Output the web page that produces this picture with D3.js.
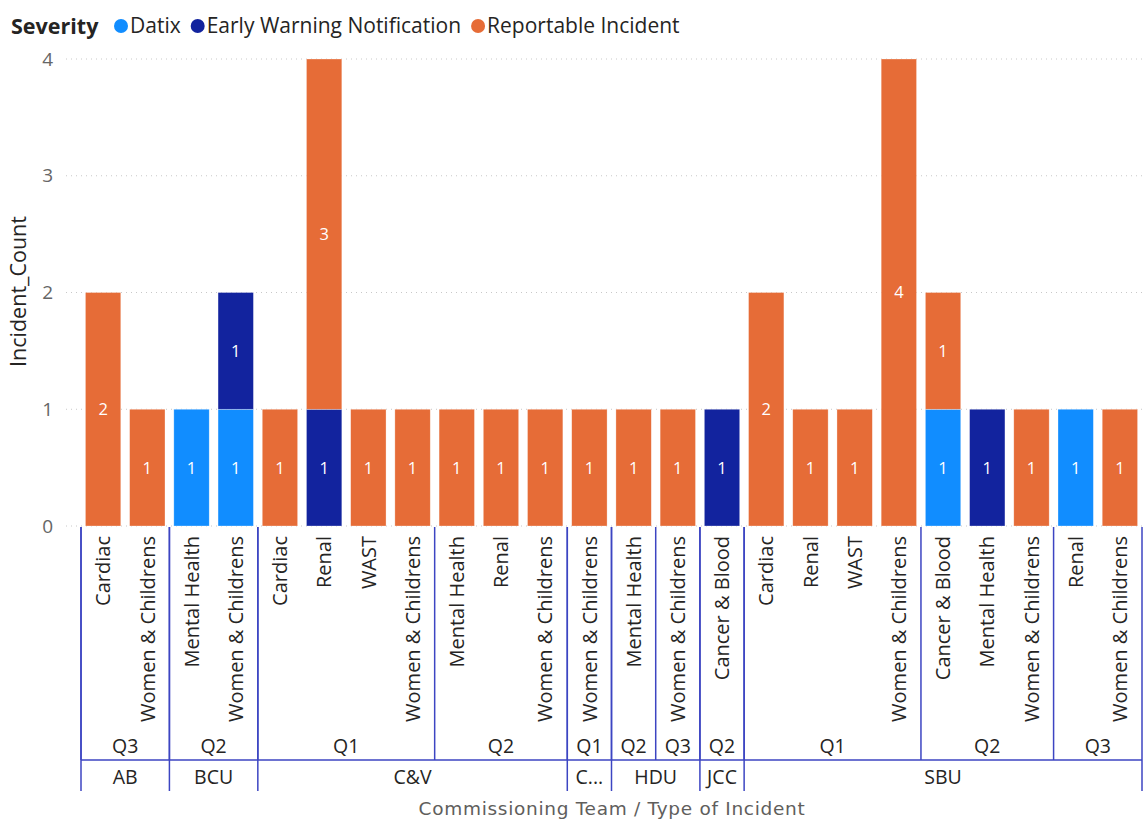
<!DOCTYPE html>
<html>
<head>
<meta charset="utf-8">
<script src="https://cdn.jsdelivr.net/npm/d3@7"></script>
<style>
  html, body { margin: 0; padding: 0; background: #fff; }
  svg { display: block; font-family: "Open Sans", "Noto Sans", sans-serif; }
</style>
</head>
<body>
<svg id="chart" width="1146" height="822"></svg>
<script>
// Hierarchy: commissioning team > quarter > type of incident
const teams = ["AB","AB","BCU","BCU","C&V","C&V","C&V","C&V","C&V","C&V","C&V","C...","HDU","HDU","JCC","SBU","SBU","SBU","SBU","SBU","SBU","SBU","SBU","SBU"];
const quarters = ["Q3","Q3","Q2","Q2","Q1","Q1","Q1","Q1","Q2","Q2","Q2","Q1","Q2","Q3","Q2","Q1","Q1","Q1","Q1","Q2","Q2","Q2","Q3","Q3"];
const incidentTypes = ["Cardiac","Women & Childrens","Mental Health","Women & Childrens","Cardiac","Renal","WAST","Women & Childrens","Mental Health","Renal","Women & Childrens","Women & Childrens","Mental Health","Women & Childrens","Cancer & Blood","Cardiac","Renal","WAST","Women & Childrens","Cancer & Blood","Mental Health","Women & Childrens","Renal","Women & Childrens"];

// Incident counts per severity
const severities = ["Datix","Early Warning Notification","Reportable Incident"];
const datix      = [0,0,1,1,0,0,0,0,0,0,0,0,0,0,0,0,0,0,0,1,0,0,1,0];
const earlyWarn  = [0,0,0,1,0,1,0,0,0,0,0,0,0,0,1,0,0,0,0,0,1,0,0,0];
const reportable = [2,1,0,0,1,3,1,1,1,1,1,1,1,1,0,2,1,1,4,1,0,1,0,1];
const yTicks = [0,1,2,3,4];

const colors = ["#118DFF","#12239E","#E66C37"];

const rows = teams.map((t, i) => ({
  key: i, team: t, quarter: quarters[i], type: incidentTypes[i],
  "Datix": datix[i], "Early Warning Notification": earlyWarn[i], "Reportable Incident": reportable[i]
}));

const svg = d3.select("#chart");
const plotLeft = 81, plotRight = 1142, plotTop = 59, plotBottom = 526;

const x = d3.scaleBand().domain(rows.map(d => d.key)).range([plotLeft, plotRight]).paddingInner(0.2).paddingOuter(0.1);
const y = d3.scaleLinear().domain([0, 4]).range([plotBottom, plotTop]);
const color = d3.scaleOrdinal().domain(severities).range(colors);

// Gridlines
svg.append("g").selectAll("line").data(yTicks).join("line")
  .attr("x1", 66).attr("x2", plotRight)
  .attr("y1", d => y(d)).attr("y2", d => y(d))
  .attr("stroke", "#c8c8c8").attr("stroke-width", 1).attr("stroke-dasharray", "1,4");

// Y axis
const yAxis = svg.append("g").attr("transform", `translate(58,0)`)
  .call(d3.axisLeft(y).tickValues(yTicks).tickFormat(d3.format("d")).tickSize(0));
yAxis.select(".domain").remove();
yAxis.selectAll("text").attr("fill", "#666").attr("font-size", 19).attr("font-family", "Open Sans, sans-serif").attr("dx", -2);

svg.append("text")
  .attr("transform", `translate(26,${(plotTop + plotBottom) / 2 - 1}) rotate(-90)`)
  .attr("text-anchor", "middle").attr("font-size", 21.5).attr("fill", "#252423")
  .text("Incident_Count");

// Stacked bars
const stack = d3.stack().keys(severities)(rows);
const layers = svg.append("g").selectAll("g").data(stack).join("g")
  .attr("fill", s => color(s.key));
layers.selectAll("rect").data(s => s.filter(d => d[1] - d[0] > 0)).join("rect")
  .attr("x", d => x(d.data.key)).attr("width", x.bandwidth())
  .attr("y", d => y(d[1])).attr("height", d => y(d[0]) - y(d[1]))
  .attr("stroke", "rgba(255,255,255,0.5)").attr("stroke-width", 0.6);

// Data labels
layers.selectAll("text").data(s => s.filter(d => d[1] - d[0] > 0)).join("text")
  .attr("x", d => x(d.data.key) + x.bandwidth() / 2)
  .attr("y", d => (y(d[0]) + y(d[1])) / 2)
  .attr("dy", "0.36em").attr("text-anchor", "middle")
  .attr("fill", "#fff").attr("font-size", 16.5)
  .text(d => d[1] - d[0]);

// Hierarchical x axis
const axisColor = "#3C45C2";
const lineTop = 527, midLine = 760, lineBottom = 791;
const typeLabelTop = 536;

svg.append("g").selectAll("text").data(rows).join("text")
  .attr("transform", d => `translate(${x(d.key) + x.bandwidth() / 2},${typeLabelTop}) rotate(-90)`)
  .attr("text-anchor", "end").attr("dy", "0.36em")
  .attr("font-size", 20).attr("fill", "#252423")
  .text(d => d.type);

function runs(keyFn) {
  const out = [];
  rows.forEach((d, i) => {
    const k = keyFn(d);
    if (out.length && out[out.length - 1].k === k) out[out.length - 1].end = i;
    else out.push({ k, start: i, end: i });
  });
  return out;
}
const step = x.step();
const edgeL = i => (i === 0 ? plotLeft : x(i) - step * x.paddingInner() / 2);
const edgeR = i => (i === rows.length - 1 ? plotRight : x(i) + x.bandwidth() + step * x.paddingInner() / 2);

const qRuns = runs(d => d.team + "|" + d.quarter).map(r => ({ ...r, label: quarters[r.start] }));
const tRuns = runs(d => d.team).map(r => ({ ...r, label: teams[r.start] }));

const axisG = svg.append("g");
// quarter separators
axisG.selectAll("line.q").data(qRuns).join("line").attr("class", "q")
  .attr("x1", r => edgeL(r.start)).attr("x2", r => edgeL(r.start))
  .attr("y1", lineTop).attr("y2", midLine)
  .attr("stroke", axisColor).attr("stroke-width", 1.5);
// team separators
axisG.selectAll("line.t").data(tRuns).join("line").attr("class", "t")
  .attr("x1", r => edgeL(r.start)).attr("x2", r => edgeL(r.start))
  .attr("y1", lineTop).attr("y2", lineBottom)
  .attr("stroke", axisColor).attr("stroke-width", 1.5);
axisG.append("line").attr("x1", plotRight).attr("x2", plotRight).attr("y1", lineTop).attr("y2", lineBottom)
  .attr("stroke", axisColor).attr("stroke-width", 1.5);
axisG.append("line").attr("x1", plotLeft).attr("x2", plotRight).attr("y1", midLine).attr("y2", midLine)
  .attr("stroke", axisColor).attr("stroke-width", 1.5);

axisG.selectAll("text.q").data(qRuns).join("text").attr("class", "q")
  .attr("x", r => (edgeL(r.start) + edgeR(r.end)) / 2).attr("y", 746)
  .attr("dy", "0.35em").attr("text-anchor", "middle")
  .attr("font-size", 19.5).attr("fill", "#252423").text(r => r.label);
axisG.selectAll("text.t").data(tRuns).join("text").attr("class", "t")
  .attr("x", r => (edgeL(r.start) + edgeR(r.end)) / 2).attr("y", 777)
  .attr("dy", "0.35em").attr("text-anchor", "middle")
  .attr("font-size", 19.5).attr("fill", "#252423").text(r => r.label);

svg.append("text").attr("x", 612).attr("y", 809).attr("dy", "0.35em")
  .attr("text-anchor", "middle").attr("fill", "#605E5C")
  .attr("font-family", "DejaVu Sans, sans-serif").attr("font-size", 18.5)
  .attr("letter-spacing", 0.7)
  .text("Commissioning Team / Type of Incident");

// Legend
const legend = svg.append("g").attr("transform", "translate(11,26)");
legend.append("text").attr("dy", "0.35em").attr("font-size", 21.5).attr("font-weight", "bold")
  .attr("fill", "#252423").text("Severity");
let lx = 110;
severities.forEach(s => {
  legend.append("circle").attr("cx", lx).attr("cy", 0).attr("r", 7).attr("fill", color(s));
  const t = legend.append("text").attr("x", lx + 9).attr("dy", "0.35em").attr("font-size", 21)
    .attr("fill", "#252423").text(s);
  lx += 9 + t.node().getComputedTextLength() + 17;
});
</script>
</body>
</html>
